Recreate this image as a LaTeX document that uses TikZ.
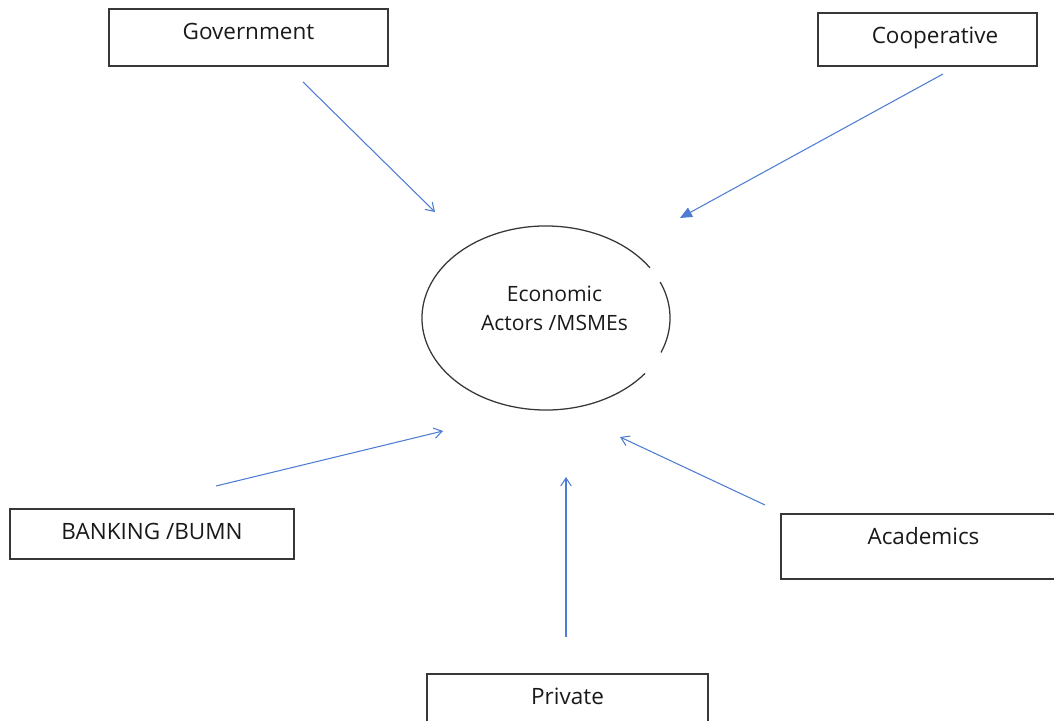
\documentclass[tikz,border=0pt]{standalone}
\usepackage{fontspec}
\setmainfont{Open Sans}
\usetikzlibrary{arrows.meta, positioning}

\definecolor{linkblue}{RGB}{78,124,210}
\definecolor{edgegray}{RGB}{55,55,55}

\begin{document}
\begin{tikzpicture}[
            x=0.025cm, y=-0.025cm,
            font=\fontsize{16pt}{20.5pt}\selectfont,
            % Styles
            actor/.style={rectangle, draw=edgegray, line width=1.2pt, anchor=north, inner xsep=0pt, inner ysep=0pt, text height=22pt, align=center, text=black!90},
            hubtext/.style={align=center, inner sep=0pt, text=black!90, font=\fontsize{15pt}{20.5pt}\selectfont},
            ring/.style={edgegray, line width=0.9pt},
            arrow/.style={linkblue, line width=0.75pt, -{Straight Barb[length=2mm, width=2.6mm]}},
            bigarrow/.style={linkblue, line width=0.75pt, -{Triangle[length=3mm, width=2.6mm]}}
        ]

        \useasboundingbox (0,0) rectangle (1054,721);
        \clip (0,0) rectangle (1054,721);

        % --- ACTOR BOXES ---
        \node (gov) [actor, minimum width=6.975cm, text depth=18.5pt] at (248.5,8) {Government};
        \node (coop) [actor, minimum width=5.475cm, text depth=15.7pt] at (927.5,12) {\hspace*{10.7pt}Cooperative};
        \node (bank) [actor, minimum width=7.1cm, text depth=13.6pt] at (152,508) {BANKING /BUMN};
        \node (acad) [actor, minimum width=7.125cm, text depth=24.2pt] at (923.5,513) {Academics};
        \node (priv) [actor, minimum width=7.025cm, text depth=17.1pt] at (567.5,673) {Private};

        % --- CENTRE: ECONOMIC ACTORS ---
        \node (eco) [hubtext] at (554.5,308) {Economic\\Actors /MSMEs};
        \coordinate (hub) at (546,318);
        \draw [ring] ([shift={(33:3.1cm and 2.3cm)}]hub) arc[start angle=33, end angle=323, x radius=3.1cm, y radius=2.3cm];
        \draw [ring] ([shift={(-22:3.1cm and 2.3cm)}]hub) arc[start angle=-22, end angle=23, x radius=3.1cm, y radius=2.3cm];

        % --- ARROW END POINTS ---
        \coordinate (gov-out) at (303,82);   \coordinate (eco-gov) at (435,212);
        \coordinate (coop-out) at (943,74);  \coordinate (eco-coop) at (680,218);
        \coordinate (bank-out) at (216,486); \coordinate (eco-bank) at (443,431);
        \coordinate (priv-out) at (566,637); \coordinate (eco-priv) at (566,477);
        \coordinate (acad-out) at (765,505); \coordinate (eco-acad) at (620,437);

        % --- CONNECTIONS ---
        \draw [arrow] (gov-out) -- (eco-gov);
        \draw [bigarrow] (coop-out) -- (eco-coop);
        \draw [arrow] (bank-out) -- (eco-bank);
        \draw [arrow] (priv-out) -- (eco-priv);
        \draw [arrow] (acad-out) -- (eco-acad);

\end{tikzpicture}
\end{document}
